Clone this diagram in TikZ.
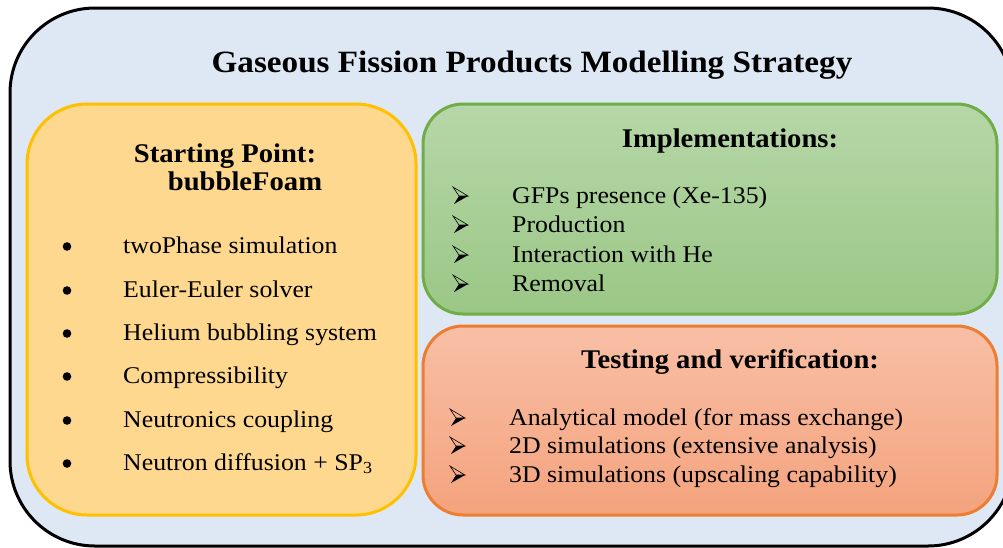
\documentclass[tikz,border=0pt]{standalone}
\usepackage{fontspec}
\setmainfont{Liberation Serif}
\newfontfamily\bodyfont[FakeStretch=1.075]{Liberation Serif}
\newfontfamily\headfont[FakeStretch=1.06]{Liberation Serif}
\newfontfamily\titlefont[FakeStretch=1.07]{Liberation Serif}
\definecolor{outerblue}{HTML}{DDE8F4}
\definecolor{yfill}{HTML}{FED88F}
\definecolor{yborder}{HTML}{FFC000}
\definecolor{gtop}{HTML}{B6D7A8}
\definecolor{gbot}{HTML}{9BC786}
\definecolor{gborder}{HTML}{70AD47}
\definecolor{otop}{HTML}{F8BFA6}
\definecolor{obot}{HTML}{F4A37D}
\definecolor{oborder}{HTML}{ED7D31}
\begin{document}
\begin{tikzpicture}[x=1pt,y=-1pt,
  itemtext/.style={anchor=base west, inner sep=0pt, font=\fontsize{24}{28}\bodyfont},
  headtext/.style={anchor=base, inner sep=0pt, font=\fontsize{27}{31}\headfont\bfseries},
  bul/.style={circle, fill=black, inner sep=0pt, minimum size=8.6pt},
  arrowmark/.pic={
    \draw[line width=0.6pt, line join=miter] (0,-16) -- (15,-7) -- (6,-7) -- cycle;
    \fill (6,-7) -- (15,-7) -- (1,1) -- cycle;
  },
  panel/.style={line width=3pt}
]
\useasboundingbox (0,0) rectangle (1003,547);
\clip (0,0) rectangle (1003,547);
\draw[panel, draw=black, fill=outerblue, rounded corners=85pt] (10,8) rectangle (1013,546);
\node[anchor=base, inner sep=0pt, font=\fontsize{31}{35}\titlefont\bfseries] (title) at (532,72) {Gaseous Fission Products Modelling Strategy};

% yellow panel
\draw[panel, draw=yborder, fill=yfill, rounded corners=60pt] (27,104) rectangle (416,515);
\node[headtext] (sp1) at (225,162) {Starting Point:};
\node[headtext] (sp2) at (245,190) {bubbleFoam};
\foreach \y/\t [count=\i] in {253/twoPhase simulation,297/Euler-Euler solver,340/Helium bubbling system,383/Compressibility,427/Neutronics coupling,470/Neutron diffusion + SP\textsubscript{3}}{
  \node[bul] (b\i) at (67,\y-6.5) {};
  \node[itemtext] (s\i) at (123,\y) {\t};
}

% green panel
\draw[panel, draw=gborder, top color=gtop, bottom color=gbot, rounded corners=40pt] (423,104) rectangle (997,314);
\node[headtext] (impl) at (730,147) {Implementations:};
\foreach \y/\t [count=\i] in {203/GFPs presence (Xe-135),232/Production,262/Interaction with He,291/Removal}{
  \pic at (453,\y) {arrowmark};
  \node[itemtext] (g\i) at (512,\y) {\t};
}

% orange panel
\draw[panel, draw=oborder, top color=otop, bottom color=obot, rounded corners=40pt] (423,326) rectangle (997,515);
\node[headtext] (test) at (730,368) {Testing and verification:};
\foreach \y/\t [count=\i] in {425/Analytical model (for mass exchange),453/2D simulations (extensive analysis),482/3D simulations (upscaling capability)}{
  \pic at (450,\y) {arrowmark};
  \node[itemtext] (o\i) at (509,\y) {\t};
}
\end{tikzpicture}
\end{document}
